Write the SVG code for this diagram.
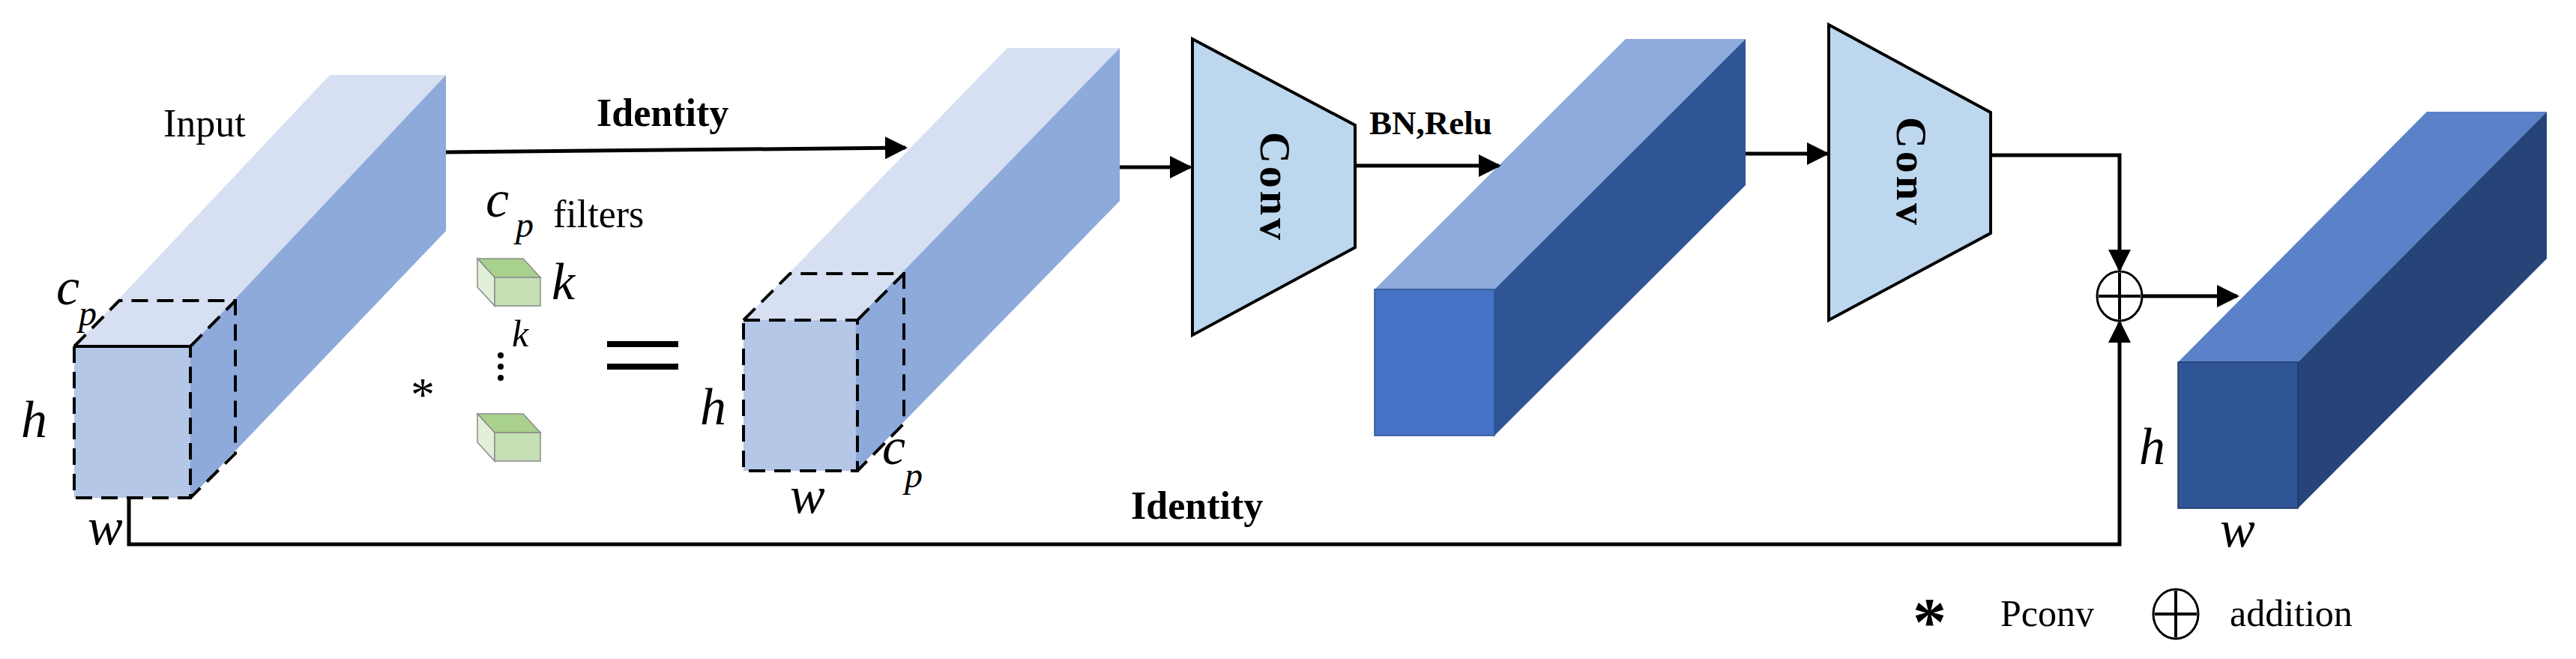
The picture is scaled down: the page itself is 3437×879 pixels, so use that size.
<svg xmlns="http://www.w3.org/2000/svg" width="3437" height="879" viewBox="0 0 3437 879">
<style>
.t{font-family:"Liberation Serif",serif;fill:#000}
.i{font-family:"Liberation Serif",serif;font-style:italic;fill:#000}
.b{font-family:"Liberation Serif",serif;font-weight:bold;fill:#000}
.ln{fill:none;stroke:#000;stroke-width:5}
.d{fill:none;stroke:#000;stroke-width:4;stroke-dasharray:22,12}
.conv{fill:#bdd7ee;stroke:#000;stroke-width:4}
</style>
<defs>
<marker id="ah" viewBox="0 0 10 10" refX="9" refY="5" markerWidth="6" markerHeight="6" markerUnits="strokeWidth" orient="auto"><path d="M0,0L10,5L0,10z" fill="#000"/></marker>
</defs>
<g id="input">
<polygon points="99,462 440,100 595,100 254,462" fill="#d6e0f2"/>
<polygon points="254,462 595,100 595,308 254,664" fill="#8eaadb"/>
<rect x="99" y="462" width="155" height="202" fill="#b4c7e7"/>
<line x1="99" y1="462" x2="254" y2="462" stroke="#000" stroke-width="4"/>
<polyline class="d" points="99,462 99,664 254,664 254,462"/>
<polyline class="d" points="99,462 159,401 314,401 314,605 254,664"/>
<line class="d" x1="254" y1="462" x2="314" y2="401"/>
<text class="t" x="218" y="182" font-size="52">Input</text>
<text class="i" x="75" y="406" font-size="70">c</text><text class="i" x="105" y="434" font-size="48">p</text>
<text class="i" x="28" y="583" font-size="70">h</text>
<text class="i" x="117" y="726" font-size="70">w</text>
</g>
<g id="filters">
<text class="i" x="648" y="289" font-size="70">c</text><text class="i" x="688" y="316" font-size="48">p</text>
<text class="t" x="738" y="303" font-size="52">filters</text>
<polygon points="637,345 698,345 721,370 660,370" fill="#a9d18e" stroke="#8a8a8a" stroke-width="1.5"/>
<polygon points="637,345 660,370 660,408 637,383" fill="#e2f0d9" stroke="#8a8a8a" stroke-width="1.5"/>
<rect x="660" y="370" width="61" height="38" fill="#c5e0b4" stroke="#8a8a8a" stroke-width="1.5"/>
<polygon points="637,552 698,552 721,577 660,577" fill="#a9d18e" stroke="#8a8a8a" stroke-width="1.5"/>
<polygon points="637,552 660,577 660,615 637,590" fill="#e2f0d9" stroke="#8a8a8a" stroke-width="1.5"/>
<rect x="660" y="577" width="61" height="38" fill="#c5e0b4" stroke="#8a8a8a" stroke-width="1.5"/>
<text class="i" x="736" y="399" font-size="70">k</text>
<text class="i" x="683" y="462" font-size="50">k</text>
<circle cx="668" cy="474" r="4"/><circle cx="668" cy="489" r="4"/><circle cx="668" cy="504" r="4"/>
<text class="t" x="548" y="548" font-size="64">*</text>
<rect x="810" y="455" width="95" height="8"/><rect x="810" y="485" width="95" height="8"/>
</g>
<g id="output1">
<polygon points="992,427 1344,64 1494,64 1142,427" fill="#d6e0f2"/>
<polygon points="1142,427 1494,64 1494,268 1142,628" fill="#8eaadb"/>
<rect x="992" y="427" width="150" height="201" fill="#b4c7e7"/>
<rect class="d" x="992" y="427" width="152" height="201"/>
<polyline class="d" points="992,427 1054,365 1206,365 1206,565 1144,628"/>
<line class="d" x1="1144" y1="427" x2="1206" y2="365"/>
<text class="i" x="934" y="566" font-size="70">h</text>
<text class="i" x="1054" y="684" font-size="70">w</text>
<text class="i" x="1177" y="619" font-size="70">c</text><text class="i" x="1207" y="650" font-size="48">p</text>
</g>
<g id="conv1">
<polygon class="conv" points="1591,52 1808,167 1808,330 1591,447"/>
<text class="b" font-size="58" letter-spacing="4" text-anchor="middle" transform="translate(1682,250) rotate(90)">Conv</text>
</g>
<g id="feat2">
<polygon points="1834,386 2169,52 2329,52 1994,386" fill="#8faadc"/>
<polygon points="1994,386 2329,52 2329,247 1994,581" fill="#2f5597"/>
<rect x="1834" y="386" width="160" height="195" fill="#4472c4" stroke="#2f528f" stroke-width="1.5"/>
</g>
<g id="conv2">
<polygon class="conv" points="2440,33 2656,150 2656,311 2440,427"/>
<text class="b" font-size="58" letter-spacing="4" text-anchor="middle" transform="translate(2531,230) rotate(90)">Conv</text>
</g>
<g id="add">
<ellipse cx="2828" cy="395" rx="30" ry="33" fill="#fff" stroke="#000" stroke-width="3"/>
<line x1="2800" y1="395" x2="2856" y2="395" stroke="#000" stroke-width="4"/>
<line x1="2828" y1="364" x2="2828" y2="426" stroke="#000" stroke-width="4"/>
</g>
<g id="output">
<polygon points="2906,483 3238,149 3398,149 3066,483" fill="#5b82c8"/>
<polygon points="3066,483 3398,149 3398,345 3066,678" fill="#264478"/>
<rect x="2906" y="483" width="160" height="195" fill="#2f5597" stroke="#1f3864" stroke-width="1.5"/>
<text class="i" x="2854" y="619" font-size="70">h</text>
<text class="i" x="2962" y="729" font-size="70">w</text>
</g>
<g id="connectors">
<line class="ln" x1="595" y1="203" x2="1208" y2="197" marker-end="url(#ah)"/>
<text class="b" x="796" y="168" font-size="52">Identity</text>
<line class="ln" x1="1494" y1="223" x2="1588" y2="223" marker-end="url(#ah)"/>
<line class="ln" x1="1808" y1="221" x2="2000" y2="221" marker-end="url(#ah)"/>
<text class="b" x="1827" y="179" font-size="45">BN,Relu</text>
<line class="ln" x1="2329" y1="205" x2="2438" y2="205" marker-end="url(#ah)"/>
<polyline class="ln" points="2656,207 2828,207 2828,360" marker-end="url(#ah)"/>
<polyline class="ln" points="172,664 172,726 2828,726 2828,430" marker-end="url(#ah)"/>
<text class="b" x="1509" y="692" font-size="52">Identity</text>
<line class="ln" x1="2858" y1="395" x2="2985" y2="395" marker-end="url(#ah)"/>
</g>
<g id="legend">
<text class="b" x="2552" y="860" font-size="90">*</text>
<text class="t" x="2669" y="835" font-size="50">Pconv</text>
<ellipse cx="2903" cy="819" rx="30" ry="33" fill="none" stroke="#000" stroke-width="3"/>
<line x1="2875" y1="819" x2="2931" y2="819" stroke="#000" stroke-width="4"/>
<line x1="2903" y1="788" x2="2903" y2="850" stroke="#000" stroke-width="4"/>
<text class="t" x="2975" y="835" font-size="50">addition</text>
</g>
</svg>
